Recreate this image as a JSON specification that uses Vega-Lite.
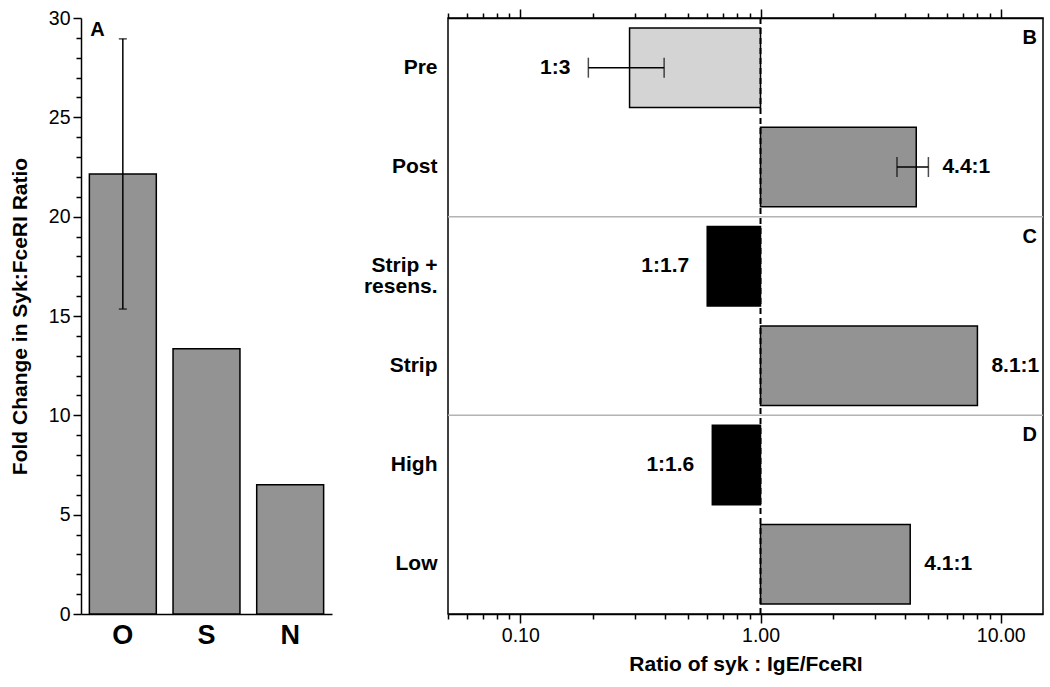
{
  "$schema": "https://vega.github.io/schema/vega-lite/v6.json",
  "background": "white",
  "padding": {"left": 9, "top": 7, "right": 5, "bottom": 5},
  "config": {
    "font": "Liberation Sans",
    "view": {"stroke": null},
    "axis": {
      "domainColor": "black", "tickColor": "black", "labelColor": "black", "titleColor": "black",
      "domainWidth": 1.5, "tickWidth": 1.5, "grid": false,
      "labelFont": "Liberation Sans", "titleFont": "Liberation Sans"
    }
  },
  "datasets": {
    "foldchange": [
      {"group": "O", "value": 22.15, "lo": 15.35, "hi": 28.95},
      {"group": "S", "value": 13.35},
      {"group": "N", "value": 6.5}
    ],
    "ratios": [
      {"row": "Pre", "value": 0.285, "lo": 0.192, "hi": 0.397, "label": "1:3", "shade": "light"},
      {"row": "Post", "value": 4.45, "lo": 3.7, "hi": 5.0, "label": "4.4:1", "shade": "gray"},
      {"row": "Strip +|resens.", "value": 0.6, "label": "1:1.7", "shade": "black"},
      {"row": "Strip", "value": 8.0, "label": "8.1:1", "shade": "gray"},
      {"row": "High", "value": 0.63, "label": "1:1.6", "shade": "black"},
      {"row": "Low", "value": 4.2, "label": "4.1:1", "shade": "gray"}
    ],
    "letters": [
      {"row": "Pre", "letter": "B"},
      {"row": "Strip +|resens.", "letter": "C"},
      {"row": "High", "letter": "D"}
    ]
  },
  "spacing": 30,
  "hconcat": [
    {
      "width": 251,
      "height": 596,
      "data": {"name": "foldchange"},
      "encoding": {
        "x": {
          "field": "group", "type": "nominal", "sort": ["O", "S", "N"],
          "scale": {"paddingInner": 0.2, "paddingOuter": 0.1},
          "axis": {"title": null, "labelAngle": 0, "ticks": false, "labelFontSize": 27, "labelFontWeight": "bold", "labelPadding": 8}
        },
        "y": {
          "field": "value", "type": "quantitative",
          "scale": {"domain": [0, 30], "nice": false},
          "axis": {
            "title": "Fold Change in Syk:FceRI Ratio", "titleFontSize": 21, "titleFontWeight": "bold", "titlePadding": 18,
            "values": [0,1,2,3,4,5,6,7,8,9,10,11,12,13,14,15,16,17,18,19,20,21,22,23,24,25,26,27,28,29,30],
            "labelExpr": "datum.value % 5 == 0 ? datum.label : ''",
            "tickSize": {"condition": {"test": "datum.value % 5 == 0", "value": 8}, "value": 5},
            "labelFontSize": 19.5, "labelPadding": 3, "labelOverlap": false
          }
        }
      },
      "layer": [
        {
          "mark": {"type": "bar", "fill": "#939393", "stroke": "black", "strokeWidth": 1.5}
        },
        {
          "transform": [{"filter": "isValid(datum.lo)"}],
          "mark": {"type": "rule", "color": "black", "strokeWidth": 1.5},
          "encoding": {
            "y": {"field": "lo", "type": "quantitative"},
            "y2": {"field": "hi"}
          }
        },
        {
          "transform": [{"filter": "isValid(datum.lo)"}],
          "mark": {"type": "tick", "orient": "horizontal", "size": 8, "thickness": 1.5, "color": "black"},
          "encoding": {"y": {"field": "lo", "type": "quantitative"}}
        },
        {
          "transform": [{"filter": "isValid(datum.hi)"}],
          "mark": {"type": "tick", "orient": "horizontal", "size": 8, "thickness": 1.5, "color": "black"},
          "encoding": {"y": {"field": "hi", "type": "quantitative"}}
        },
        {
          "transform": [{"filter": "datum.group == 'O'"}],
          "mark": {"type": "text", "text": "A", "fontSize": 20, "fontWeight": "bold", "align": "left", "baseline": "top", "dx": 1, "dy": 2, "color": "black"},
          "encoding": {
            "x": {"field": "group", "type": "nominal", "sort": ["O", "S", "N"], "bandPosition": 0},
            "y": {"datum": 30, "type": "quantitative"}
          }
        }
      ]
    },
    {
      "width": 595,
      "height": 596,
      "data": {"name": "ratios"},
      "view": {"stroke": "black", "strokeWidth": 1.5},
      "resolve": {"axis": {"x": "independent"}},
      "encoding": {
        "y": {
          "field": "row", "type": "nominal",
          "sort": ["Pre", "Post", "Strip +|resens.", "Strip", "High", "Low"],
          "scale": {"paddingInner": 0.2, "paddingOuter": 0.1},
          "axis": {
            "title": null, "ticks": false, "domain": false,
            "labelFontSize": 21, "labelFontWeight": "bold", "labelPadding": 11,
            "labelExpr": "split(datum.value, '|')", "labelLineHeight": 21
          }
        }
      },
      "layer": [
        {
          "mark": {"type": "bar", "stroke": "black", "strokeWidth": 1.5},
          "encoding": {
            "x": {
              "field": "value", "type": "quantitative",
              "scale": {"type": "log", "domain": [0.05, 15], "nice": false},
              "axis": {
                "orient": "bottom",
                "title": "Ratio of syk : IgE/FceRI", "titleFontSize": 21, "titleFontWeight": "bold", "titlePadding": 9,
                "values": [0.05,0.06,0.07,0.08,0.09,0.1,0.2,0.3,0.4,0.5,0.6,0.7,0.8,0.9,1,2,3,4,5,6,7,8,9,10],
                "labelExpr": "(datum.value == 0.1 || datum.value == 1 || datum.value == 10) ? format(datum.value, '.2f') : ''",
                "tickSize": {"condition": {"test": "datum.value == 0.1 || datum.value == 1 || datum.value == 10", "value": 9}, "value": 5},
                "labelFontSize": 19.5, "labelPadding": 3, "labelOverlap": false, "labelFlush": false
              }
            },
            "x2": {"datum": 1},
            "fill": {
              "field": "shade", "type": "nominal",
              "scale": {"domain": ["light", "gray", "black"], "range": ["#d4d4d4", "#939393", "#000000"]},
              "legend": null
            }
          }
        },
        {
          "transform": [{"filter": "isValid(datum.lo)"}],
          "mark": {"type": "rule", "color": "black", "strokeWidth": 1.5},
          "encoding": {
            "x": {
              "field": "lo", "type": "quantitative",
              "axis": {
                "orient": "top", "title": null, "labels": false,
                "values": [0.05,0.06,0.07,0.08,0.09,0.1,0.2,0.3,0.4,0.5,0.6,0.7,0.8,0.9,1,2,3,4,5,6,7,8,9,10],
                "tickSize": {"condition": {"test": "datum.value == 0.1 || datum.value == 1 || datum.value == 10", "value": 9}, "value": 5}
              }
            },
            "x2": {"field": "hi"}
          }
        },
        {
          "transform": [{"filter": "isValid(datum.lo)"}],
          "mark": {"type": "tick", "orient": "vertical", "size": 20, "thickness": 1.5, "color": "black"},
          "encoding": {"x": {"field": "lo", "type": "quantitative", "axis": null}}
        },
        {
          "transform": [{"filter": "isValid(datum.hi)"}],
          "mark": {"type": "tick", "orient": "vertical", "size": 20, "thickness": 1.5, "color": "black"},
          "encoding": {"x": {"field": "hi", "type": "quantitative", "axis": null}}
        },
        {
          "transform": [
            {"filter": "datum.value < 1"},
            {"calculate": "isValid(datum.lo) ? datum.lo : datum.value", "as": "anchor"}
          ],
          "mark": {"type": "text", "fontSize": 21, "fontWeight": "bold", "align": "right", "baseline": "middle", "dx": -18, "color": "black"},
          "encoding": {
            "x": {"field": "anchor", "type": "quantitative", "axis": null},
            "text": {"field": "label"}
          }
        },
        {
          "transform": [
            {"filter": "datum.value > 1"},
            {"calculate": "isValid(datum.hi) ? datum.hi : datum.value", "as": "anchor"}
          ],
          "mark": {"type": "text", "fontSize": 21, "fontWeight": "bold", "align": "left", "baseline": "middle", "dx": 14, "color": "black"},
          "encoding": {
            "x": {"field": "anchor", "type": "quantitative", "axis": null},
            "text": {"field": "label"}
          }
        },
        {
          "transform": [{"filter": "datum.row == 'Strip +|resens.' || datum.row == 'High'"}],
          "mark": {"type": "rule", "color": "#b4b4b4", "strokeWidth": 1.5},
          "encoding": {
            "y": {
              "field": "row", "type": "nominal", "bandPosition": -0.125,
              "sort": ["Pre", "Post", "Strip +|resens.", "Strip", "High", "Low"]
            }
          }
        },
        {
          "data": {"values": [{"v": 1}]},
          "mark": {"type": "rule", "color": "black", "strokeWidth": 2, "strokeDash": [6, 4]},
          "encoding": {
            "x": {"field": "v", "type": "quantitative", "axis": null},
            "y": null
          }
        },
        {
          "data": {"name": "letters"},
          "mark": {"type": "text", "fontSize": 20, "fontWeight": "bold", "align": "right", "baseline": "top", "dx": -6, "dy": 0, "color": "black"},
          "encoding": {
            "x": {"datum": 15, "type": "quantitative", "axis": null},
            "y": {
              "field": "row", "type": "nominal", "bandPosition": 0,
              "sort": ["Pre", "Post", "Strip +|resens.", "Strip", "High", "Low"]
            },
            "text": {"field": "letter"}
          }
        }
      ]
    }
  ]
}
